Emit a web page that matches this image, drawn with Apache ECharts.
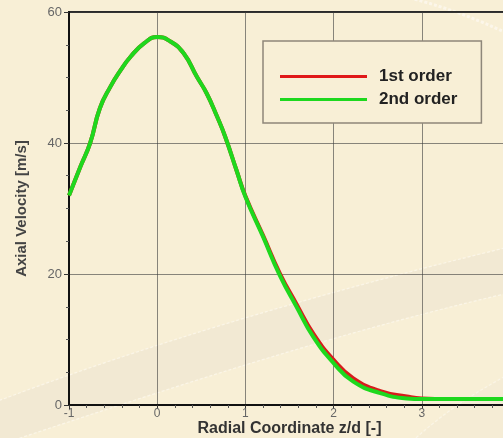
<!DOCTYPE html>
<html>
<head>
<meta charset="utf-8">
<script src="https://cdn.jsdelivr.net/npm/echarts@6/dist/echarts.min.js"></script>
<style>
html,body{margin:0;padding:0;background:#f8efd6;}
#c{width:503px;height:438px;position:relative;}
#bg{position:absolute;left:0;top:0;width:503px;height:438px;}
</style>
</head>
<body>
<svg id="bg" xmlns="http://www.w3.org/2000/svg" width="503" height="438">
  <rect x="0" y="0" width="503" height="438" fill="#f8efd6"/>
  <path d="M -10 404 C 150 343, 330 290, 513 246 L 513 292 C 330 334, 165 390, -10 448 Z" fill="#f1e8d2" stroke="#fcf8ee" stroke-width="1.2" stroke-dasharray="3 2" opacity="0.75"/>
  <path d="M 405 448 C 440 415, 470 395, 513 372 L 513 448 Z" fill="#f4ebd5" stroke="#fcf8ee" stroke-width="1.2" stroke-dasharray="3 2" opacity="0.7"/>
  <path d="M 405 -3 C 440 5, 475 18, 513 36" fill="none" stroke="#fdfaf2" stroke-width="3" stroke-dasharray="3 2" opacity="0.7"/>
</svg>
<div id="c"></div>
<script>
var xs = [-1, -0.87, -0.76, -0.65, -0.53, -0.42, -0.3, -0.15, 0, 0.15, 0.3, 0.45, 0.56, 0.68, 0.77, 0.9, 1.0, 1.2, 1.39, 1.58, 1.77, 2.0, 2.22, 2.53, 2.83, 3.0, 3.3, 3.6, 4.0];
var secondOrder = [32, 36.4, 40, 45.3, 48.6, 51, 53.2, 55.2, 56.2, 55.5, 53.7, 50.1, 47.6, 44, 41, 35.8, 31.8, 25.7, 19.8, 15.0, 10.4, 6.4, 3.6, 1.8, 1.0, 0.9, 0.9, 0.9, 0.9];
var firstOrder  = [32, 36.4, 40, 45.3, 48.6, 51, 53.2, 55.2, 56.2, 55.5, 53.7, 50.1, 47.6, 44, 41, 35.8, 31.9, 25.9, 20.1, 15.4, 10.9, 6.9, 4.1, 2.1, 1.3, 1.0, 0.9, 0.9, 0.9];
var seriesNames = ['1st order', '2nd order'];
var xTitle = 'Radial Coordinate z/d [-]';
var yTitle = 'Axial Velocity [m/s]';

function pairs(x, y){ return x.map(function(v,i){ return [v, y[i]]; }); }

var chart = echarts.init(document.getElementById('c'), null, {renderer:'canvas'});
chart.setOption({
  backgroundColor: 'transparent',
  animation: false,
  grid: {left: 69, right: -7, top: 12, bottom: 33, outerBoundsMode: 'none', containLabel: false,
         show: true, borderColor: '#2a2a2a', borderWidth: 2, backgroundColor: 'transparent'},
  legend: {
    orient: 'vertical', left: 263, top: 41,
    padding: [27, 24, 15, 17], itemGap: 6,
    itemWidth: 87, itemHeight: 3, icon: 'rect',
    backgroundColor: '#f8efd6', borderColor: '#8e877a', borderWidth: 1.5,
    textStyle: {fontFamily: 'Liberation Sans', fontWeight: 'bold', fontSize: 17, color: '#222', padding: [0,0,0,7]},
    data: seriesNames
  },
  xAxis: {
    type: 'value', min: -1, max: 4, interval: 1,
    name: xTitle, nameLocation: 'middle', nameGap: 16, nameMoveOverlap: false,
    nameTextStyle: {fontFamily: 'Liberation Sans', fontWeight: 'bold', fontSize: 16, color: '#333'},
    axisLine: {show: true, onZero: false, lineStyle: {color: '#111', width: 2}},
    axisTick: {show: true, length: 4, lineStyle: {color: '#333'}},
    minorTick: {show: true, splitNumber: 5, length: 3, lineStyle: {color: '#555'}},
    axisLabel: {fontFamily: 'Liberation Sans', fontSize: 12, color: '#666', margin: 3},
    splitLine: {show: true, lineStyle: {color: 'rgba(60,60,60,0.6)', width: 1}}
  },
  yAxis: {
    type: 'value', min: 0, max: 60, interval: 20,
    name: yTitle, nameLocation: 'middle', nameGap: 40, nameRotate: 90,
    nameTextStyle: {fontFamily: 'Liberation Sans', fontWeight: 'bold', fontSize: 15, color: '#444'},
    axisLine: {show: true, onZero: false, lineStyle: {color: '#111', width: 2}},
    axisTick: {show: true, length: 5, lineStyle: {color: '#333'}},
    minorTick: {show: true, splitNumber: 4, length: 3, lineStyle: {color: '#555'}},
    axisLabel: {fontFamily: 'Liberation Sans', fontSize: 13, color: '#666', margin: 7},
    splitLine: {show: true, lineStyle: {color: 'rgba(60,60,60,0.6)', width: 1}}
  },
  series: [
    {name: seriesNames[0], type: 'line', data: pairs(xs, firstOrder), smooth: true, showSymbol: false,
     itemStyle: {color: '#e01818'}, lineStyle: {color: '#d81c1c', width: 4}},
    {name: seriesNames[1], type: 'line', data: pairs(xs, secondOrder), smooth: true, showSymbol: false,
     itemStyle: {color: '#1ed81e'}, lineStyle: {color: '#1ed81e', width: 4}}
  ]
});
</script>
</body>
</html>
